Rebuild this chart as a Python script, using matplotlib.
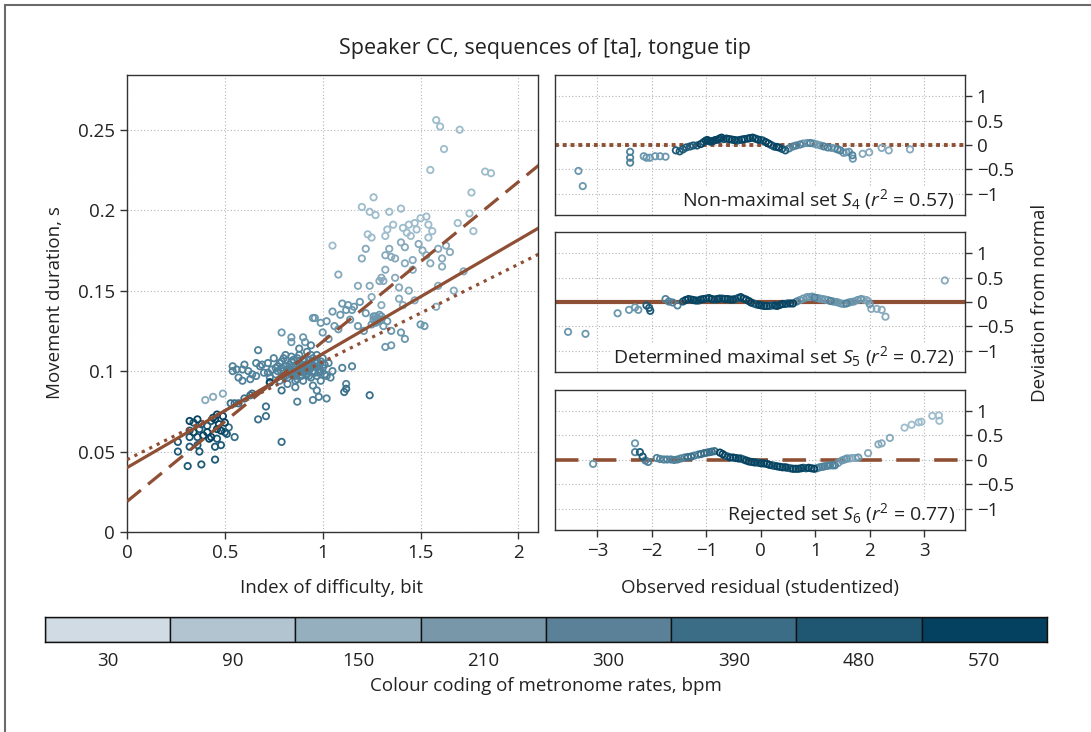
import numpy as np
import matplotlib.pyplot as plt
from matplotlib.patches import Rectangle

plt.rcParams['font.family'] = ['Open Sans', 'DejaVu Sans']
plt.rcParams['mathtext.fontset'] = 'custom'
plt.rcParams['mathtext.rm'] = 'Open Sans'
plt.rcParams['mathtext.it'] = 'Open Sans:italic'
plt.rcParams['font.size'] = 13.5
plt.rcParams['axes.unicode_minus'] = True

# metronome rates and their colour coding
rates = [30, 90, 150, 210, 300, 390, 480, 570]
rate_colours = ['#d0dbe3', '#b1c4d0', '#95afbe', '#7898aa', '#5a8197', '#3c6d86', '#1f5773', '#04405f']
marker_colours = ['#c0d3de', '#9dbccc', '#86a9bc', '#6b98ae', '#50829b', '#3a6f89', '#1d5a77', '#064462']
line_colour = '#8f4f34'

# main panel: index of difficulty (bit) vs movement duration (s), by rate
x90 = [1.58, 1.60, 1.70, 1.62, 1.55, 1.83, 1.86, 1.76, 1.26, 1.20, 1.24, 1.27, 1.34, 1.40, 1.75, 1.69, 1.77,
       1.53, 1.50, 1.47, 1.44, 1.41, 1.48, 1.45, 1.43, 1.54, 1.56, 1.54, 1.36, 1.33, 1.32, 1.23, 1.25, 1.05]
y90 = [0.256, 0.252, 0.250, 0.238, 0.225, 0.224, 0.223, 0.211, 0.208, 0.202, 0.199, 0.197, 0.199, 0.201, 0.198,
       0.192, 0.187, 0.196, 0.195, 0.192, 0.191, 0.189, 0.188, 0.184, 0.186, 0.191, 0.187, 0.183, 0.191, 0.188,
       0.184, 0.185, 0.183, 0.178]
x150 = [1.40, 1.42, 1.49, 1.51, 1.59, 1.63, 1.65, 1.61, 1.61, 1.55, 1.53, 1.34, 1.32, 1.35, 1.37, 1.22, 1.20,
        1.08, 1.42, 1.46, 1.46, 1.32, 1.37, 1.30, 1.29, 1.31, 1.18, 1.24, 1.39, 1.44, 1.25, 1.30, 1.39, 1.47,
        1.59, 1.67, 1.72, 1.58, 1.41, 0.40, 0.44, 0.49]
y150 = [0.180, 0.177, 0.179, 0.175, 0.176, 0.178, 0.174, 0.170, 0.165, 0.167, 0.172, 0.176, 0.172, 0.171, 0.170,
        0.176, 0.170, 0.160, 0.167, 0.169, 0.163, 0.163, 0.158, 0.158, 0.156, 0.156, 0.153, 0.153, 0.152, 0.150,
        0.146, 0.141, 0.145, 0.144, 0.153, 0.150, 0.162, 0.140, 0.141, 0.082, 0.084, 0.086]
x210 = [1.10, 1.13, 1.16, 1.19, 1.05, 1.09, 1.12, 1.15, 1.22, 1.26, 1.28, 1.29, 1.27, 1.30, 1.25, 1.31, 1.33,
        1.35, 1.40, 1.35, 1.32, 1.50, 1.52, 1.42, 0.95, 0.96, 0.99, 1.02, 1.06, 1.08, 1.14, 1.21, 1.18, 0.79,
        0.84, 0.84, 0.90, 0.91, 1.00, 1.03, 1.27, 1.29, 1.26, 1.30, 1.28]
y210 = [0.142, 0.141, 0.140, 0.143, 0.137, 0.135, 0.138, 0.138, 0.136, 0.134, 0.133, 0.131, 0.130, 0.134, 0.129,
        0.128, 0.131, 0.125, 0.124, 0.116, 0.115, 0.129, 0.128, 0.120, 0.133, 0.133, 0.130, 0.131, 0.128, 0.126,
        0.132, 0.125, 0.128, 0.124, 0.121, 0.118, 0.121, 0.118, 0.124, 0.120, 0.134, 0.135, 0.132, 0.132, 0.131]
x300 = [0.67, 0.54, 0.54, 0.56, 0.59, 0.62, 0.59, 0.63, 0.66, 0.66, 0.69, 0.72, 0.75, 0.77, 0.79, 0.80, 0.81,
        0.83, 0.84, 0.85, 0.86, 0.87, 0.88, 0.89, 0.90, 0.91, 0.92, 0.93, 0.94, 0.95, 0.96, 0.97, 0.98, 0.99,
        1.00, 1.02, 1.03, 1.05, 0.76, 0.78, 0.82, 0.86, 0.90, 0.95, 0.99, 1.04, 0.70, 0.73, 0.81, 0.84, 0.87,
        0.90, 0.93, 0.96, 0.88, 0.94, 1.10, 1.15, 1.12, 1.02, 0.97, 0.95, 0.98, 0.87,
        0.82, 0.85, 0.88, 0.91, 0.94, 0.97, 0.80, 0.83, 0.86, 0.89, 0.92, 0.95, 0.98, 1.01, 0.84, 0.87, 0.90, 0.93,
        0.76, 0.78, 0.80, 0.82, 0.84, 0.86, 0.88, 0.90, 0.92, 0.94, 0.96, 0.98, 1.00, 0.77, 0.79, 0.81, 0.83,
        0.85, 0.87, 0.89, 0.91, 0.93, 0.95, 0.97, 0.99, 1.01, 0.74, 0.72, 0.68, 0.64, 0.60, 0.57]
y300 = [0.113, 0.103, 0.100, 0.101, 0.101, 0.100, 0.094, 0.095, 0.097, 0.105, 0.104, 0.105, 0.108, 0.103, 0.106,
        0.100, 0.110, 0.104, 0.098, 0.107, 0.101, 0.095, 0.110, 0.103, 0.099, 0.106, 0.112, 0.101, 0.096, 0.108,
        0.103, 0.110, 0.099, 0.106, 0.102, 0.097, 0.105, 0.100, 0.098, 0.094, 0.092, 0.090, 0.094, 0.091, 0.094,
        0.096, 0.099, 0.096, 0.103, 0.100, 0.104, 0.107, 0.104, 0.099, 0.114, 0.116, 0.102, 0.103, 0.092, 0.083,
        0.088, 0.082, 0.084, 0.081,
        0.101, 0.103, 0.101, 0.104, 0.102, 0.105, 0.097, 0.099, 0.097, 0.100, 0.098, 0.100, 0.103, 0.104, 0.106,
        0.099, 0.102, 0.097,
        0.102, 0.105, 0.108, 0.096, 0.109, 0.094, 0.106, 0.103, 0.100, 0.110, 0.106, 0.101, 0.108, 0.100, 0.102,
        0.097, 0.101, 0.099, 0.108, 0.097, 0.101, 0.107, 0.103, 0.097, 0.100, 0.098, 0.101, 0.099, 0.103, 0.098,
        0.104, 0.096]
x390 = [0.79, 1.24, 1.12, 1.11, 0.73, 0.67, 0.71, 0.71, 0.79, 0.63, 0.53, 0.55, 0.57, 0.52, 0.55, 0.60, 0.64]
y390 = [0.088, 0.085, 0.089, 0.087, 0.093, 0.070, 0.072, 0.078, 0.056, 0.085, 0.080, 0.080, 0.080, 0.065, 0.059,
        0.083, 0.086]
x480 = [0.31, 0.38, 0.45, 0.26, 0.26, 0.32, 0.36, 0.37, 0.32, 0.32, 0.34, 0.38, 0.41, 0.43, 0.46, 0.48, 0.45,
        0.50, 0.51, 0.36, 0.37]
y480 = [0.041, 0.042, 0.045, 0.056, 0.050, 0.053, 0.054, 0.050, 0.059, 0.063, 0.068, 0.067, 0.066, 0.069, 0.058,
        0.054, 0.053, 0.062, 0.061, 0.059, 0.064]
x570 = [0.32, 0.36, 0.44, 0.46, 0.49, 0.50, 0.43, 0.42, 0.41, 0.39, 0.48, 0.46, 0.73, 0.34, 0.47, 0.45]
y570 = [0.069, 0.070, 0.071, 0.073, 0.072, 0.068, 0.059, 0.058, 0.062, 0.060, 0.063, 0.064, 0.093, 0.062, 0.067,
        0.070]

# regression lines for S4 (dotted), S5 (solid), S6 (dashed): intercept, slope
fit_intercept = [0.045, 0.040, 0.019]
fit_slope = [0.0607, 0.0708, 0.0993]

# residual panels: observed residual vs deviation from normal
s4_x = [-3.35, -3.27, -2.40, -2.40, -2.40, -2.15, -2.10, -2.04, -1.94, -1.85, -1.75, -1.56, -1.49, -1.43, -1.37,
        -1.30, -1.24, -1.17, -1.01, -0.95, -0.88, -0.79, -0.72, -0.63, -0.53, -0.44, -0.35, -0.24, -0.15, -0.05,
        0.04, 0.14, 0.24, 0.33, 0.45, 0.59, 0.72, 0.85, 0.97, 1.10, 1.23, 1.36, 1.46, 1.52, 1.62, 1.68, 1.69,
        1.87, 1.99, 2.22, 2.35, 2.74,
        -1.10, -1.05, -0.98, -0.92, -0.84, -0.76, -0.68, -0.58, -0.48, -0.40, -0.30, -0.20, -0.10, 0.00, 0.09,
        0.19, 0.29, 0.39,
        0.52, 0.65, 0.78, 0.91, 1.03, 1.16, 1.30, 1.41, 1.57]
s4_y = [-0.53, -0.84, -0.14, -0.26, -0.36, -0.23, -0.26, -0.26, -0.23, -0.23, -0.24, -0.11, -0.13, -0.09, -0.05,
        -0.03, -0.01, -0.01, 0.09, 0.08, 0.08, 0.11, 0.15, 0.13, 0.11, 0.09, 0.11, 0.13, 0.15, 0.11,
        0.09, 0.03, -0.03, -0.05, -0.11, -0.03, 0.01, 0.04, 0.03, -0.01, -0.05, -0.07, -0.11, -0.16, -0.14, -0.21,
        -0.28, -0.18, -0.15, -0.06, -0.11, -0.09,
        0.02, 0.06, 0.10, 0.07, 0.10, 0.13, 0.12, 0.12, 0.10, 0.10, 0.12, 0.14, 0.13, 0.10, 0.06,
        0.00, -0.04, -0.08,
        -0.07, -0.01, 0.03, 0.04, 0.01, -0.03, -0.06, -0.09, -0.15]
s4_rate = [210, 210, 300, 300, 300, 210, 210, 210, 210, 210, 210, 480, 480, 480, 480, 480, 480, 480,
           570, 570, 570, 570, 570, 570, 570, 480, 570, 570, 570, 570, 480, 570, 480, 570, 480,
           300, 300, 210, 210, 210, 300, 210, 300, 210, 210, 300, 210, 150, 150, 150, 150, 150,
           570, 480, 570, 570, 570, 570, 480, 570, 570, 480, 570, 570, 570, 480, 570, 480, 570, 480,
           300, 300, 210, 300, 210, 300, 210, 300, 210]

s5_x = [-3.54, -3.22, -2.63, -2.42, -2.31, -2.25, -2.10, -2.05, -2.03, -1.75, -1.69, -1.62, -1.53, -1.43, -1.33,
        -1.24, -1.14, -1.05, -0.95, -0.85, -0.76, -0.66, -0.56, -0.47, -0.37, -0.27, -0.18, -0.08, 0.01, 0.11,
        0.21, 0.30, 0.40, 0.49, 0.59, 0.72, 0.85, 0.94, 1.04, 1.13, 1.23, 1.33, 1.42, 1.52, 1.62, 1.71, 1.84,
        1.94, 2.00, 2.03, 2.13, 2.22, 2.29, 3.38,
        -1.38, -1.28, -1.19, -1.10, -1.00, -0.90, -0.80, -0.71, -0.61, -0.51, -0.42, -0.32, -0.22, -0.13, -0.03,
        0.06, 0.16, 0.26, 0.35, 0.45, 0.54,
        0.66, 0.78, 0.90, 0.99, 1.08, 1.18, 1.28, 1.38, 1.47, 1.57, 1.66, 1.78, 1.89, 1.97]
s5_y = [-0.61, -0.65, -0.23, -0.16, -0.11, -0.16, -0.07, -0.12, -0.18, 0.06, 0.01, -0.01, -0.07, 0.01, 0.06,
        0.04, 0.03, 0.06, 0.08, 0.05, 0.07, 0.06, 0.05, 0.06, 0.10, 0.05, -0.01, -0.05, -0.07, -0.08,
        -0.07, -0.08, -0.04, -0.03, -0.03, 0.04, 0.10, 0.11, 0.08, 0.06, 0.04, 0.01, -0.01, -0.04, -0.01, 0.01,
        0.06, 0.04, -0.04, -0.14, -0.14, -0.16, -0.30, 0.44,
        0.04, 0.05, 0.03, 0.05, 0.07, 0.06, 0.06, 0.07, 0.06, 0.05, 0.08, 0.07, 0.02, -0.03, -0.06,
        -0.08, -0.08, -0.07, -0.06, -0.04, -0.03,
        0.01, 0.07, 0.10, 0.09, 0.07, 0.05, 0.02, 0.00, -0.03, -0.03, 0.00, 0.04, 0.05, 0.02]
s5_rate = [210, 210, 210, 210, 210, 210, 480, 480, 480, 300, 300, 300, 300,
           480, 570, 570, 480, 570, 570, 480, 570, 570, 570, 480, 570, 570, 570, 480, 570, 570, 480, 570, 570,
           480, 570,
           210, 210, 210, 210, 210, 210, 210, 210, 210, 210, 210, 210, 150, 210, 150, 150, 150, 150, 150,
           570, 480, 570, 570, 480, 570, 570, 480, 570, 570, 480, 570, 570, 480, 570, 570, 480, 570, 570, 480,
           570,
           300, 210, 210, 300, 210, 210, 300, 210, 210, 300, 210, 210, 150, 150]

s6_x = [-3.08, -2.31, -2.31, -2.22, -2.17, -2.12, -2.07, -1.91, -1.78, -1.65, -1.53, -1.40, -1.28, -1.15, -1.04,
        -0.94, -0.85, -0.75, -0.66, -0.56, -0.46, -0.37, -0.27, -0.17, -0.08, 0.01, 0.11, 0.21, 0.30, 0.40,
        0.49, 0.59, 0.69, 0.78, 0.88, 0.98, 1.08, 1.17, 1.27, 1.36, 1.49, 1.58, 1.68, 1.79, 1.97, 2.16, 2.22,
        2.37, 2.64, 2.77, 2.90, 2.95, 3.15, 3.27, 3.28,
        -0.70, -0.61, -0.51, -0.41, -0.32, -0.22, -0.12, -0.03, 0.06, 0.16, 0.25, 0.35, 0.45, 0.54, 0.64,
        0.74, 0.83, 0.93,
        -1.85, -1.72, -1.59, -1.47, -1.34, -1.22, -1.10, -0.99, -0.90, 1.03, 1.13, 1.22, 1.32, 1.42, 1.54,
        1.63, 1.74]
s6_y = [-0.08, 0.34, 0.16, 0.16, 0.07, -0.01, -0.04, 0.04, 0.01, 0.01, 0.01, 0.05, 0.07, 0.11, 0.14,
        0.16, 0.18, 0.15, 0.09, 0.05, 0.04, 0.03, -0.01, -0.04, -0.05, -0.07, -0.08, -0.11, -0.13, -0.15,
        -0.16, -0.18, -0.18, -0.16, -0.16, -0.18, -0.15, -0.13, -0.11, -0.11, -0.01, 0.03, 0.04, 0.05, 0.14,
        0.32, 0.34, 0.45, 0.66, 0.72, 0.77, 0.78, 0.90, 0.91, 0.80,
        0.12, 0.07, 0.05, 0.03, 0.01, -0.03, -0.05, -0.06, -0.07, -0.10, -0.12, -0.14, -0.15, -0.17, -0.18,
        -0.17, -0.17, -0.17,
        0.02, 0.01, 0.00, 0.03, 0.06, 0.09, 0.12, 0.15, 0.17, -0.17, -0.14, -0.12, -0.11, -0.06, 0.01,
        0.03, 0.04]
s6_rate = [210, 210, 300, 480, 480, 300, 300, 300, 300, 300, 300, 300, 390, 300, 390, 390, 390,
           570, 480, 570, 570, 480, 570, 570, 480, 570, 570, 480, 570, 570, 480, 570, 570, 480, 570, 570,
           300, 300, 300, 300, 210, 210, 150, 210, 150, 150, 150, 150, 90, 90, 90, 90, 90, 90, 90,
           570, 480, 570, 570, 480, 570, 570, 480, 570, 570, 480, 570, 570, 480, 570, 570, 480, 570,
           300, 300, 300, 300, 390, 300, 390, 390, 390, 300, 300, 300, 300, 210, 210, 150, 150]

fig = plt.figure(figsize=(10.91, 7.32), dpi=100)


def style_axes(ax):
    for s in ax.spines.values():
        s.set_color('#333333')
        s.set_linewidth(1.0)
    ax.tick_params(direction='out', length=5, width=1, color='#333333', labelcolor='#222222', labelsize=13.5)
    ax.grid(True, linestyle=(0, (1, 2)), color='#b5b5b5', linewidth=0.8)
    ax.set_axisbelow(True)


def marker_colour(r):
    return marker_colours[rates.index(r)]


# ---- main panel ----
ax = fig.add_axes([0.1164, 0.2732, 0.3767, 0.6243])
style_axes(ax)
groups = [(x90, y90, 90), (x150, y150, 150), (x210, y210, 210), (x300, y300, 300),
          (x390, y390, 390), (x480, y480, 480), (x570, y570, 570)]
for gx, gy, r in groups:
    ax.scatter(gx, gy, s=21, facecolors='none', edgecolors=marker_colour(r), linewidths=1.3, zorder=2)

xs = np.array([0, 2.2])
styles = [dict(dashes=(1.0, 1.6)), dict(linestyle='-'), dict(dashes=(5.6, 2.9))]
for a, b, st in zip(fit_intercept, fit_slope, styles):
    ax.plot(xs, a + b * xs, color=line_colour, lw=2.3, zorder=3, **st)

ax.set_xlim(0, 2.1)
ax.set_ylim(0, 0.284)
ax.set_xticks([0, 0.5, 1, 1.5, 2])
ax.set_xticklabels(['0', '0.5', '1', '1.5', '2'])
ax.set_yticks([0, 0.05, 0.1, 0.15, 0.2, 0.25])
ax.set_yticklabels(['0', '0.05', '0.1', '0.15', '0.2', '0.25'])

# ---- residual panels ----
panels = [
    (0.7063, s4_x, s4_y, s4_rate, dict(dashes=(1.0, 1.0)), 2.8, r'Non-maximal set $S_4$ ($r^2$ = 0.57)'),
    (0.4918, s5_x, s5_y, s5_rate, dict(linestyle='-'), 3.0, r'Determined maximal set $S_5$ ($r^2$ = 0.72)'),
    (0.2760, s6_x, s6_y, s6_rate, dict(dashes=(6.5, 4.0)), 2.6, r'Rejected set $S_6$ ($r^2$ = 0.77)'),
]
for i, (bottom, px, py, pr, st, lw, label) in enumerate(panels):
    rax = fig.add_axes([0.5087, bottom, 0.3758, 0.1906])
    style_axes(rax)
    rax.axhline(0, color=line_colour, lw=lw, zorder=1.5, **st)
    order = np.argsort(pr, kind='stable')
    px = np.asarray(px)[order]
    py = np.asarray(py)[order]
    cols = [marker_colour(pr[k]) for k in order]
    rax.scatter(px, py, s=21, facecolors='none', edgecolors=cols, linewidths=1.3, zorder=2)
    rax.set_xlim(-3.78, 3.75)
    rax.set_ylim(-1.43, 1.42)
    rax.set_xticks([-3, -2, -1, 0, 1, 2, 3])
    rax.set_yticks([-1, -0.5, 0, 0.5, 1])
    rax.set_yticklabels(['\u22121', '\u22120.5', '0', '0.5', '1'])
    rax.yaxis.tick_right()
    if i < 2:
        rax.tick_params(axis='x', length=0, labelbottom=False)
    else:
        rax.set_xticklabels(['\u22123', '\u22122', '\u22121', '0', '1', '2', '3'])
    rax.text(0.975, 0.02, label, transform=rax.transAxes, ha='right', va='bottom',
             fontsize=14, color='#222222', zorder=4,
             bbox=dict(facecolor='white', edgecolor='none', pad=0.5))

# ---- labels ----
fig.text(0.4995, 0.934, 'Speaker CC, sequences of [ta], tongue tip', ha='center', va='center',
         color='#222222', fontsize=15.5)
fig.text(0.050, 0.586, 'Movement duration, s', rotation=90, ha='center', va='center', color='#222222')
fig.text(0.953, 0.586, 'Deviation from normal', rotation=90, ha='center', va='center', color='#222222')
fig.text(0.304, 0.197, 'Index of difficulty, bit', ha='center', va='center', color='#222222')
fig.text(0.697, 0.197, 'Observed residual (studentized)', ha='center', va='center', color='#222222')

# ---- colour key ----
cax = fig.add_axes([0.0412, 0.1230, 0.9184, 0.0342])
cax.bar(np.arange(len(rates)), np.ones(len(rates)), width=1, align='edge',
        color=rate_colours, edgecolor='#111111', linewidth=1.0)
cax.set_xlim(0, len(rates))
cax.set_ylim(0, 1)
cax.set_yticks([])
cax.set_xticks(np.arange(len(rates)) + 0.5)
cax.set_xticklabels([str(r) for r in rates], color='#222222')
cax.tick_params(axis='x', length=0, pad=7)
for s in cax.spines.values():
    s.set_color('#111111')
    s.set_linewidth(1.0)
cax.set_xlabel('Colour coding of metronome rates, bpm', color='#222222', labelpad=5)

# page frame on the left and top
fig.add_artist(Rectangle((5 / 1091, -0.1), 1.2, 1.1 - 5 / 732, transform=fig.transFigure,
                         fill=False, edgecolor='#6b6b6b', linewidth=1.5, clip_on=False))

fig.savefig('out.png', dpi=100)
